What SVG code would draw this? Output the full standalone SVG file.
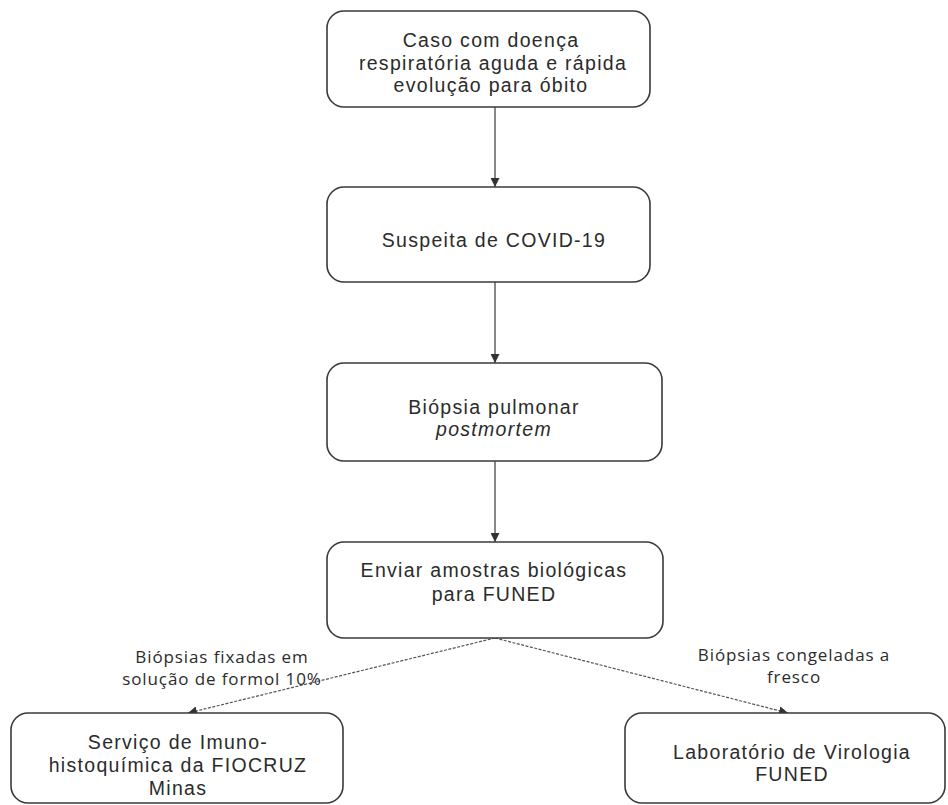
<svg xmlns="http://www.w3.org/2000/svg" width="948" height="805" viewBox="0 0 948 805">
<style>
.box{fill:#fff;stroke:#3a3a3a;stroke-width:1.6}
.t{font-family:"Liberation Sans",Arial,sans-serif;font-size:19.5px;letter-spacing:1.3px;fill:#2b2b2b;text-anchor:middle}
.lab{font-family:"Open Sans","Noto Sans",sans-serif;font-size:17px;letter-spacing:0.9px;fill:#2b2b2b;text-anchor:middle}
.c{stroke:#3a3a3a;stroke-width:1.2;fill:none}
.d{stroke:#555;stroke-width:1.2;fill:none;stroke-dasharray:3 1.5}
</style>
<defs>
<marker id="ah" viewBox="0 0 10 10" refX="10" refY="5" markerWidth="9" markerHeight="9" markerUnits="userSpaceOnUse" orient="auto">
<path d="M0,0 L10,5 L0,10 z" fill="#333"/>
</marker>
</defs>
<rect width="948" height="805" fill="#fff"/>
<g id="connectors">
<line class="c" x1="495" y1="107" x2="495" y2="187" marker-end="url(#ah)"/>
<line class="c" x1="495" y1="282" x2="495" y2="363" marker-end="url(#ah)"/>
<line class="c" x1="495" y1="461" x2="495" y2="542" marker-end="url(#ah)"/>
<line class="d" x1="495" y1="638" x2="188" y2="713" marker-end="url(#ah)"/>
<line class="d" x1="495" y1="638" x2="788" y2="713" marker-end="url(#ah)"/>
<text class="lab" x="222" y="663">Biópsias fixadas em</text>
<text class="lab" x="222" y="685">solução de formol 10%</text>
<text class="lab" x="794" y="661">Biópsias congeladas a</text>
<text class="lab" x="794" y="683">fresco</text>
</g>
<g id="n1">
<rect class="box" x="327" y="11" width="323" height="96" rx="17"/>
<text class="t" x="491" y="47">Caso com doença</text>
<text class="t" x="493" y="70">respiratória aguda e rápida</text>
<text class="t" x="491" y="92">evolução para óbito</text>
</g>
<g id="n2">
<rect class="box" x="327" y="187" width="323" height="95" rx="17"/>
<text class="t" x="494" y="247">Suspeita de COVID-19</text>
</g>
<g id="n3">
<rect class="box" x="327" y="363" width="335" height="98" rx="17"/>
<text class="t" x="494" y="414">Biópsia pulmonar</text>
<text class="t" x="494" y="436" font-style="italic">postmortem</text>
</g>
<g id="n4">
<rect class="box" x="327" y="542" width="336" height="96" rx="17"/>
<text class="t" x="494" y="577">Enviar amostras biológicas</text>
<text class="t" x="494" y="601">para FUNED</text>
</g>
<g id="n5">
<rect class="box" x="11" y="713" width="332" height="90" rx="17"/>
<text class="t" x="178" y="749">Serviço de Imuno-</text>
<text class="t" x="178" y="772">histoquímica da FIOCRUZ</text>
<text class="t" x="178" y="795">Minas</text>
</g>
<g id="n6">
<rect class="box" x="625" y="713" width="320" height="90" rx="17"/>
<text class="t" x="792" y="759">Laboratório de Virologia</text>
<text class="t" x="792" y="781">FUNED</text>
</g>
</svg>
